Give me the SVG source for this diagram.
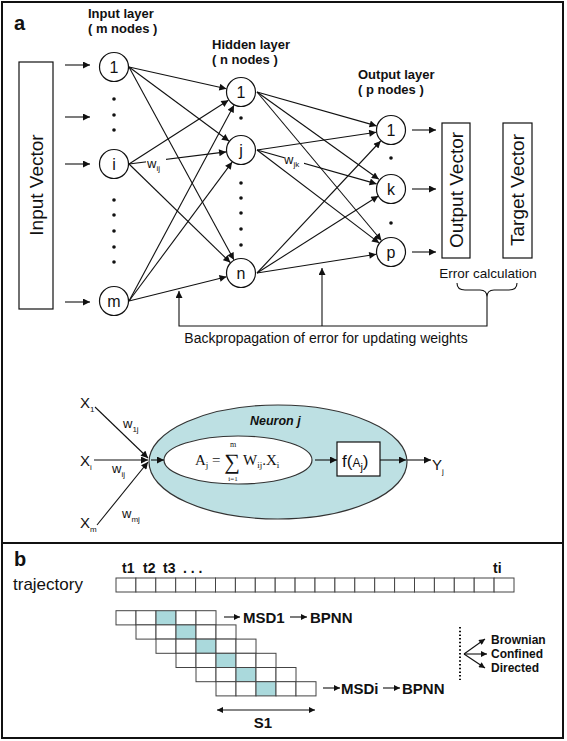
<svg xmlns="http://www.w3.org/2000/svg" width="567" height="741" viewBox="0 0 567 741">
<style>
.frame{fill:none;stroke:#111;stroke-width:2}
.node{fill:#fff;stroke:#111;stroke-width:1.2}
.edge{stroke:#111;stroke-width:1.1;fill:none}
.box{fill:#fff;stroke:#111;stroke-width:1.2}
.t{font-family:"Liberation Sans",Arial,sans-serif;fill:#111}
.b{font-weight:bold}
.serif{font-family:"Liberation Serif","Times New Roman",serif;fill:#111}
.cell{fill:#fff;stroke:#444;stroke-width:1}
.hl{fill:#aad9dc;stroke:#444;stroke-width:1}
.dot{fill:#111}
</style>
<defs>
<marker id="ah" viewBox="0 0 10 10" refX="10" refY="5" markerWidth="8" markerHeight="7" markerUnits="userSpaceOnUse" orient="auto">
<path d="M0,0 L10,5 L0,10 z" fill="#111"/>
</marker>
<marker id="ahs" viewBox="0 0 10 10" refX="10" refY="5" markerWidth="7" markerHeight="6" markerUnits="userSpaceOnUse" orient="auto-start-reverse">
<path d="M0,0 L10,5 L0,10 z" fill="#111"/>
</marker>
</defs>
<rect x="0" y="0" width="567" height="741" fill="#fff"/>
<rect class="frame" x="2" y="2" width="561" height="736"/>
<line class="frame" x1="2" y1="543" x2="563" y2="543"/>

<text class="t b" x="14" y="30" font-size="20">a</text>
<text class="t b" x="14" y="566" font-size="20">b</text>

<g id="layer-titles">
<text class="t b" x="88" y="18" font-size="13">Input layer</text>
<text class="t b" x="88" y="33" font-size="13">( m nodes )</text>
<text class="t b" x="212" y="49" font-size="13">Hidden layer</text>
<text class="t b" x="212" y="64" font-size="13">( n nodes )</text>
<text class="t b" x="358" y="79" font-size="13">Output layer</text>
<text class="t b" x="358" y="94" font-size="13">( p nodes )</text>
</g>

<g id="input-vector">
<rect class="box" x="19" y="62" width="34" height="247"/>
<text class="t" font-size="19" text-anchor="middle" transform="translate(43,185) rotate(-90)">Input Vector</text>
</g>

<g id="connectors">
<line class="edge" x1="65" y1="65" x2="90" y2="65" marker-end="url(#ah)"/>
<line class="edge" x1="65" y1="117" x2="90" y2="117" marker-end="url(#ah)"/>
<line class="edge" x1="65" y1="164" x2="90" y2="164" marker-end="url(#ah)"/>
<line class="edge" x1="65" y1="302" x2="90" y2="302" marker-end="url(#ah)"/>
<line class="edge" x1="129" y1="67" x2="226.4" y2="88.7" marker-end="url(#ah)"/>
<line class="edge" x1="129" y1="67" x2="229" y2="141" marker-end="url(#ah)"/>
<line class="edge" x1="129" y1="67" x2="233.9" y2="259.8" marker-end="url(#ah)"/>
<line class="edge" x1="129" y1="164" x2="228.4" y2="100.2" marker-end="url(#ah)"/>
<line class="edge" x1="129" y1="164" x2="226.1" y2="151.9" marker-end="url(#ah)"/>
<line class="edge" x1="129" y1="164" x2="230.3" y2="262.5" marker-end="url(#ah)"/>
<line class="edge" x1="129" y1="301" x2="234" y2="105.2" marker-end="url(#ah)"/>
<line class="edge" x1="129" y1="301" x2="232.1" y2="162.1" marker-end="url(#ah)"/>
<line class="edge" x1="129" y1="301" x2="226.5" y2="276.7" marker-end="url(#ah)"/>
<line class="edge" x1="257" y1="92" x2="376.6" y2="125.9" marker-end="url(#ah)"/>
<line class="edge" x1="257" y1="92" x2="378.8" y2="179.3" marker-end="url(#ah)"/>
<line class="edge" x1="257" y1="92" x2="381.4" y2="240.5" marker-end="url(#ah)"/>
<line class="edge" x1="257" y1="150" x2="376.2" y2="132.2" marker-end="url(#ah)"/>
<line class="edge" x1="257" y1="150" x2="376.6" y2="183.9" marker-end="url(#ah)"/>
<line class="edge" x1="257" y1="150" x2="379.1" y2="242.9" marker-end="url(#ah)"/>
<line class="edge" x1="257" y1="273" x2="380.7" y2="141" marker-end="url(#ah)"/>
<line class="edge" x1="257" y1="273" x2="378.3" y2="196" marker-end="url(#ah)"/>
<line class="edge" x1="257" y1="273" x2="376.2" y2="254.3" marker-end="url(#ah)"/>
<line class="edge" x1="412" y1="130" x2="436" y2="130" marker-end="url(#ah)"/>
<line class="edge" x1="412" y1="189" x2="436" y2="189" marker-end="url(#ah)"/>
<line class="edge" x1="412" y1="252" x2="436" y2="252" marker-end="url(#ah)"/>
<path class="edge" d="M487,297 L487,326 L179,326 L179,291" marker-end="url(#ah)"/>
<line class="edge" x1="322" y1="326" x2="322" y2="268" marker-end="url(#ah)"/>
<path class="edge" d="M457,283 Q457,290 465,290 L480,290 Q487,290 487,297 Q487,290 494,290 L509,290 Q517,290 517,283"/>
</g>

<g id="weight-labels">
<rect x="146" y="157" width="20" height="15" fill="#fff"/>
<text class="t" x="147" y="168" font-size="13">w<tspan font-size="8" dy="3">ij</tspan></text>
<rect x="284" y="155" width="20" height="12" fill="#fff"/>
<text class="t" x="284" y="164" font-size="13">w<tspan font-size="8" dy="3">jk</tspan></text>
</g>

<g id="input-nodes">
<circle class="node" cx="114" cy="67" r="14.5"/>
<text class="t" x="114" y="73" font-size="16" text-anchor="middle">1</text>
<circle class="node" cx="114" cy="164" r="14.5"/>
<text class="t" x="114" y="170" font-size="16" text-anchor="middle">i</text>
<circle class="node" cx="114" cy="301" r="14.5"/>
<text class="t" x="114" y="307" font-size="16" text-anchor="middle">m</text>
<circle class="dot" cx="114" cy="99" r="1.8"/>
<circle class="dot" cx="114" cy="115" r="1.8"/>
<circle class="dot" cx="114" cy="130" r="1.8"/>
<circle class="dot" cx="114" cy="200" r="1.8"/>
<circle class="dot" cx="114" cy="215" r="1.8"/>
<circle class="dot" cx="114" cy="231" r="1.8"/>
<circle class="dot" cx="114" cy="247" r="1.8"/>
<circle class="dot" cx="114" cy="262" r="1.8"/>
</g>

<g id="hidden-nodes">
<circle class="node" cx="241" cy="92" r="14.5"/>
<text class="t" x="241" y="98" font-size="16" text-anchor="middle">1</text>
<circle class="node" cx="241" cy="150" r="14.5"/>
<text class="t" x="241" y="156" font-size="16" text-anchor="middle">j</text>
<circle class="node" cx="241" cy="273" r="14.5"/>
<text class="t" x="241" y="279" font-size="16" text-anchor="middle">n</text>
<circle class="dot" cx="241" cy="118" r="1.8"/>
<circle class="dot" cx="241" cy="183" r="1.8"/>
<circle class="dot" cx="241" cy="198" r="1.8"/>
<circle class="dot" cx="241" cy="213" r="1.8"/>
<circle class="dot" cx="241" cy="229" r="1.8"/>
<circle class="dot" cx="241" cy="245" r="1.8"/>
</g>

<g id="output-nodes">
<circle class="node" cx="391" cy="130" r="14.5"/>
<text class="t" x="391" y="136" font-size="16" text-anchor="middle">1</text>
<circle class="node" cx="391" cy="189" r="14.5"/>
<text class="t" x="391" y="195" font-size="16" text-anchor="middle">k</text>
<circle class="node" cx="391" cy="252" r="14.5"/>
<text class="t" x="391" y="258" font-size="16" text-anchor="middle">p</text>
<circle class="dot" cx="391" cy="158" r="1.8"/>
<circle class="dot" cx="391" cy="223" r="1.8"/>
</g>

<g id="output-vector">
<rect class="box" x="442" y="123" width="28" height="135"/>
<text class="t" font-size="19" text-anchor="middle" transform="translate(463,190) rotate(-90)">Output Vector</text>
</g>
<g id="target-vector">
<rect class="box" x="503" y="123" width="29" height="135"/>
<text class="t" font-size="19" text-anchor="middle" transform="translate(524,190) rotate(-90)">Target Vector</text>
</g>

<text class="t" x="488" y="278" font-size="13.5" text-anchor="middle">Error calculation</text>
<text class="t" x="326" y="343" font-size="14" text-anchor="middle">Backpropagation of error for updating weights</text>

<g id="neuron-j">
<ellipse cx="278" cy="462" rx="129" ry="57" fill="#bde0e3" stroke="#333" stroke-width="1.2"/>
<text class="t b" x="250" y="425" font-size="12.5" font-style="italic">Neuron j</text>
<ellipse cx="238" cy="460" rx="74" ry="24" fill="#fff" stroke="#333" stroke-width="1.2"/>
<text class="serif" x="195" y="465" font-size="15">A<tspan font-size="9" dy="3">j</tspan><tspan dy="-3"> =</tspan></text>
<text class="serif" x="232" y="469" font-size="22" text-anchor="middle">∑</text>
<text class="serif" x="233" y="447" font-size="8" text-anchor="middle">m</text>
<text class="serif" x="233" y="481" font-size="7" text-anchor="middle">i=1</text>
<text class="serif" x="243" y="465" font-size="15">W<tspan font-size="9" dy="3">ij</tspan><tspan dy="-3">.X</tspan><tspan font-size="9" dy="3">i</tspan></text>
</g>
<g id="f-box">
<rect class="box" x="337" y="442" width="43" height="34"/>
<text class="t" x="342" y="467" font-size="17">f(<tspan font-size="12">A</tspan><tspan font-size="11" dy="4">j</tspan><tspan dy="-4">)</tspan></text>
</g>
<g id="neuron-connectors">
<line class="edge" x1="95" y1="407" x2="148" y2="458" marker-end="url(#ah)"/>
<line class="edge" x1="94" y1="460" x2="148" y2="460" marker-end="url(#ah)"/>
<line class="edge" x1="97" y1="525" x2="148" y2="462" marker-end="url(#ah)"/>
<line class="edge" x1="151" y1="460" x2="164" y2="460" marker-end="url(#ah)"/>
<line class="edge" x1="315" y1="460" x2="337" y2="460" marker-end="url(#ah)"/>
<line class="edge" x1="380" y1="460" x2="406" y2="460" marker-end="url(#ah)"/>
<line class="edge" x1="407" y1="460" x2="431" y2="460" marker-end="url(#ah)"/>
</g>
<g id="neuron-labels">
<text class="t" x="80" y="408" font-size="15">X<tspan font-size="8" dy="4">1</tspan></text>
<text class="t" x="80" y="466" font-size="15">X<tspan font-size="8" dy="4">i</tspan></text>
<text class="t" x="80" y="528" font-size="15">X<tspan font-size="8" dy="4">m</tspan></text>
<text class="t" x="123" y="428" font-size="13">w<tspan font-size="8" dy="4">1j</tspan></text>
<text class="t" x="112" y="473" font-size="13">w<tspan font-size="8" dy="4">ij</tspan></text>
<text class="t" x="122" y="518" font-size="13">w<tspan font-size="8" dy="4">mj</tspan></text>
<text class="t" x="432" y="470" font-size="15">Y<tspan font-size="8" dy="4">j</tspan></text>
</g>

<g id="trajectory">
<text class="t" x="13" y="590" font-size="17">trajectory</text>
<text class="t b" x="122" y="573" font-size="14">t1</text>
<text class="t b" x="143" y="573" font-size="14">t2</text>
<text class="t b" x="163" y="573" font-size="14">t3</text>
<text class="t b" x="183" y="573" font-size="14">. . .</text>
<text class="t b" x="493" y="573" font-size="14">ti</text>
<g id="traj-cells">
<rect class="cell" x="116" y="578" width="19.9" height="14"/>
<rect class="cell" x="135.9" y="578" width="19.9" height="14"/>
<rect class="cell" x="155.8" y="578" width="19.9" height="14"/>
<rect class="cell" x="175.7" y="578" width="19.9" height="14"/>
<rect class="cell" x="195.6" y="578" width="19.9" height="14"/>
<rect class="cell" x="215.5" y="578" width="19.9" height="14"/>
<rect class="cell" x="235.4" y="578" width="19.9" height="14"/>
<rect class="cell" x="255.3" y="578" width="19.9" height="14"/>
<rect class="cell" x="275.2" y="578" width="19.9" height="14"/>
<rect class="cell" x="295.1" y="578" width="19.9" height="14"/>
<rect class="cell" x="315" y="578" width="19.9" height="14"/>
<rect class="cell" x="334.9" y="578" width="19.9" height="14"/>
<rect class="cell" x="354.8" y="578" width="19.9" height="14"/>
<rect class="cell" x="374.7" y="578" width="19.9" height="14"/>
<rect class="cell" x="394.6" y="578" width="19.9" height="14"/>
<rect class="cell" x="414.5" y="578" width="19.9" height="14"/>
<rect class="cell" x="434.4" y="578" width="19.9" height="14"/>
<rect class="cell" x="454.3" y="578" width="19.9" height="14"/>
<rect class="cell" x="474.2" y="578" width="19.9" height="14"/>
<rect class="cell" x="494.1" y="578" width="19.9" height="14"/>
</g>
</g>

<g id="windows">
<rect class="cell" x="116" y="610.7" width="20" height="14.2"/>
<rect class="cell" x="136" y="610.7" width="20" height="14.2"/>
<rect class="hl" x="156" y="610.7" width="20" height="14.2"/>
<rect class="cell" x="176" y="610.7" width="20" height="14.2"/>
<rect class="cell" x="196" y="610.7" width="20" height="14.2"/>
<rect class="cell" x="136" y="624.9" width="20" height="14.2"/>
<rect class="cell" x="156" y="624.9" width="20" height="14.2"/>
<rect class="hl" x="176" y="624.9" width="20" height="14.2"/>
<rect class="cell" x="196" y="624.9" width="20" height="14.2"/>
<rect class="cell" x="216" y="624.9" width="20" height="14.2"/>
<rect class="cell" x="156" y="639.1" width="20" height="14.2"/>
<rect class="cell" x="176" y="639.1" width="20" height="14.2"/>
<rect class="hl" x="196" y="639.1" width="20" height="14.2"/>
<rect class="cell" x="216" y="639.1" width="20" height="14.2"/>
<rect class="cell" x="236" y="639.1" width="20" height="14.2"/>
<rect class="cell" x="176" y="653.3" width="20" height="14.2"/>
<rect class="cell" x="196" y="653.3" width="20" height="14.2"/>
<rect class="hl" x="216" y="653.3" width="20" height="14.2"/>
<rect class="cell" x="236" y="653.3" width="20" height="14.2"/>
<rect class="cell" x="256" y="653.3" width="20" height="14.2"/>
<rect class="cell" x="196" y="667.5" width="20" height="14.2"/>
<rect class="cell" x="216" y="667.5" width="20" height="14.2"/>
<rect class="hl" x="236" y="667.5" width="20" height="14.2"/>
<rect class="cell" x="256" y="667.5" width="20" height="14.2"/>
<rect class="cell" x="276" y="667.5" width="20" height="14.2"/>
<rect class="cell" x="216" y="681.7" width="20" height="14.2"/>
<rect class="cell" x="236" y="681.7" width="20" height="14.2"/>
<rect class="hl" x="256" y="681.7" width="20" height="14.2"/>
<rect class="cell" x="276" y="681.7" width="20" height="14.2"/>
<rect class="cell" x="296" y="681.7" width="20" height="14.2"/>
</g>

<g id="msd-labels">
<line class="edge" x1="224" y1="617" x2="240" y2="617" marker-end="url(#ahs)"/>
<text class="t b" x="243" y="623" font-size="15">MSD1</text>
<line class="edge" x1="290" y1="617" x2="307" y2="617" marker-end="url(#ahs)"/>
<text class="t b" x="310" y="623" font-size="15">BPNN</text>
<line class="edge" x1="323" y1="688" x2="340" y2="688" marker-end="url(#ahs)"/>
<text class="t b" x="341" y="694" font-size="15">MSDi</text>
<line class="edge" x1="383" y1="688" x2="400" y2="688" marker-end="url(#ahs)"/>
<text class="t b" x="402" y="694" font-size="15">BPNN</text>
<line class="edge" x1="217" y1="710" x2="315" y2="710" marker-start="url(#ahs)" marker-end="url(#ahs)"/>
<text class="t b" x="263" y="728" font-size="15" text-anchor="middle">S1</text>
</g>

<g id="classes">
<line x1="460" y1="627" x2="460" y2="680" stroke="#111" stroke-width="2" stroke-dasharray="1.5,2.2"/>
<line class="edge" x1="464" y1="654" x2="485" y2="639" marker-end="url(#ahs)"/>
<line class="edge" x1="464" y1="654" x2="487" y2="654" marker-end="url(#ahs)"/>
<line class="edge" x1="464" y1="654" x2="485" y2="668" marker-end="url(#ahs)"/>
<text class="t b" x="491" y="644" font-size="12">Brownian</text>
<text class="t b" x="491" y="658" font-size="12">Confined</text>
<text class="t b" x="491" y="672" font-size="12">Directed</text>
</g>
</svg>
